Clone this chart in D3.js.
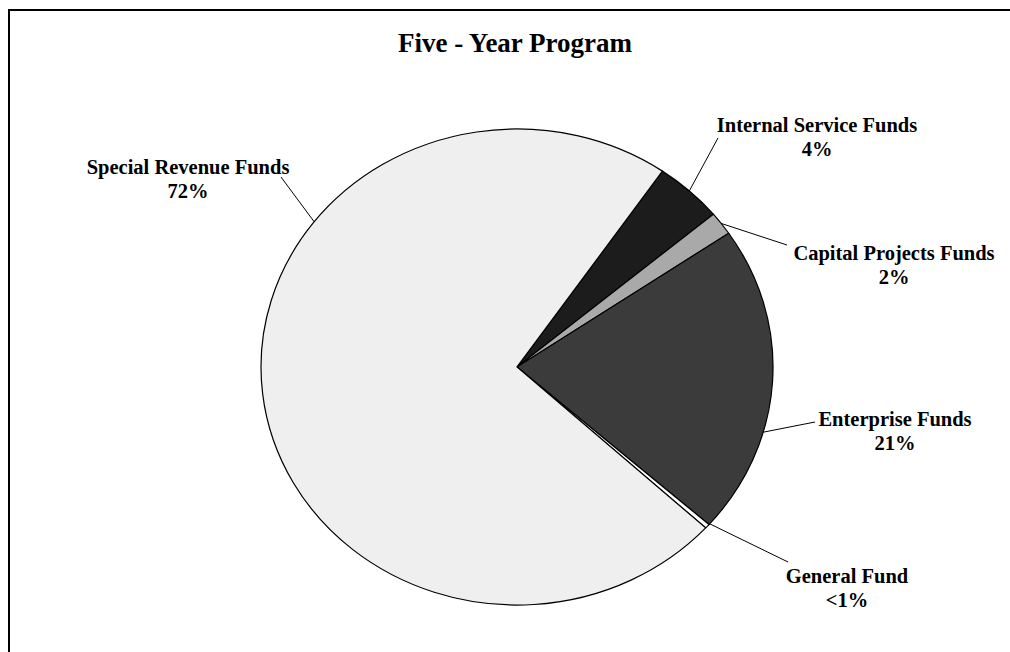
<!DOCTYPE html>
<html>
<head>
<meta charset="utf-8">
<script src="https://cdn.jsdelivr.net/npm/d3@7"></script>
<style>
  body { margin: 0; background: #fff; }
  text { font-family: "Liberation Serif", "Times New Roman", serif; font-weight: bold; fill: #000; }
</style>
</head>
<body>
<svg id="chart" width="1010" height="652"></svg>
<script>
// slices, clockwise starting just right of twelve o'clock
var funds = ["Internal Service Funds", "Capital Projects Funds", "Enterprise Funds", "General Fund", "Special Revenue Funds"];
var shares = [4.3, 1.6, 21.0, 0.3, 72.8];
var pctText = ["4%", "2%", "21%", "<1%", "72%"];
var colors = ["#1c1c1c", "#a9a9a9", "#3b3b3b", "#ffffff", "#efefef"];

// label placement (layout only)
var labelPos = [
  {x: 817, y: 132, lx: 718, ly: 138, anchor: 42.3},
  {x: 894, y: 260, lx: 787, ly: 245, anchor: 52.9},
  {x: 895, y: 426, lx: 815, ly: 422, anchor: 105.9},
  {x: 847, y: 583, lx: 788, ly: 562, anchor: 131.2},
  {x: 188, y: 174, lx: 281, ly: 177, anchor: 307.6}
];

var svg = d3.select("#chart");
var W = 1010, H = 652;

// outer frame (only top and left edges show in the picture)
svg.append("rect")
  .attr("x", 9).attr("y", 10)
  .attr("width", W + 20).attr("height", H + 20)
  .attr("fill", "none")
  .attr("stroke", "#000")
  .attr("stroke-width", 2);

svg.append("text")
  .attr("x", 515).attr("y", 52)
  .attr("text-anchor", "middle")
  .attr("font-size", 27)
  .text("Five - Year Program");

var cx = 517, cy = 367, rx = 256, ry = 238;
var startDeg = 34.6;

var pie = d3.pie()
  .sort(null)
  .startAngle(startDeg * Math.PI / 180)
  .endAngle((startDeg + 360) * Math.PI / 180);

var arcs = pie(shares);

var arc = d3.arc().innerRadius(0).outerRadius(1);

var g = svg.append("g")
  .attr("transform", "translate(" + cx + "," + cy + ") scale(" + rx + "," + ry + ")");

g.selectAll("path")
  .data(arcs)
  .enter().append("path")
    .attr("d", arc)
    .attr("fill", function(d, i) { return colors[i]; })
    .attr("stroke", "#000")
    .attr("stroke-width", 1.2)
    .attr("vector-effect", "non-scaling-stroke");

function edgePoint(deg) {
  var a = deg * Math.PI / 180;
  return [cx + rx * Math.sin(a), cy - ry * Math.cos(a)];
}

// leader lines
svg.append("g").selectAll("line")
  .data(labelPos)
  .enter().append("line")
    .attr("x1", function(d) { return edgePoint(d.anchor)[0]; })
    .attr("y1", function(d) { return edgePoint(d.anchor)[1]; })
    .attr("x2", function(d) { return d.lx; })
    .attr("y2", function(d) { return d.ly; })
    .attr("stroke", "#000")
    .attr("stroke-width", 1);

var labels = svg.append("g").selectAll("g")
  .data(labelPos)
  .enter().append("g");

labels.append("text")
  .attr("x", function(d) { return d.x; })
  .attr("y", function(d) { return d.y; })
  .attr("text-anchor", "middle")
  .attr("font-size", 20.5)
  .text(function(d, i) { return funds[i]; });

labels.append("text")
  .attr("x", function(d) { return d.x; })
  .attr("y", function(d) { return d.y + 24; })
  .attr("text-anchor", "middle")
  .attr("font-size", 20.5)
  .text(function(d, i) { return pctText[i]; });
</script>
</body>
</html>
